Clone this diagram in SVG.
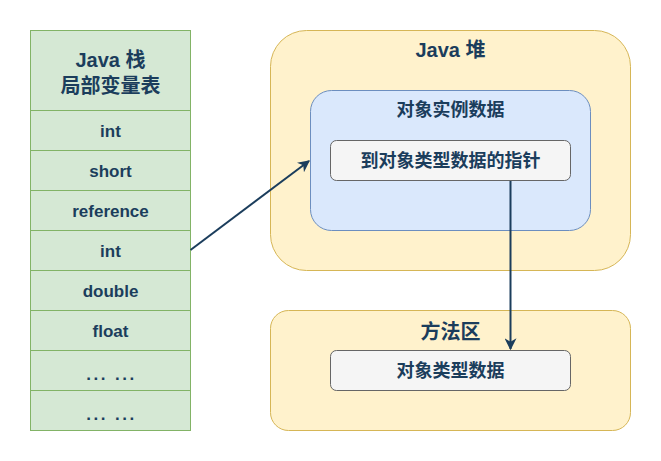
<svg xmlns="http://www.w3.org/2000/svg" width="661" height="461" viewBox="0 0 661 461">
<defs>
<style>
text{font-family:"Liberation Sans","Noto Sans CJK SC",sans-serif;font-weight:bold;fill:#1b3d5c;text-anchor:middle}
.cell{fill:#d5e8d4;stroke:#82b366;stroke-width:1}
.row{font-size:17px}
.dots{font-size:17px;letter-spacing:2.5px}
.title{font-size:20px}
.sub{font-size:18px}
.yellow{fill:#fff2cc;stroke:#d6b656;stroke-width:1}
.blue{fill:#dae8fc;stroke:#6c8ebf;stroke-width:1}
.grey{fill:#f5f5f5;stroke:#666666;stroke-width:1}
.edge{fill:none;stroke:#1b3d5c;stroke-width:2}
</style>
<marker id="arr" viewBox="0 0 10 10" refX="9" refY="5" markerWidth="6" markerHeight="6" orient="auto" markerUnits="strokeWidth">
<path d="M0,0 L10,5 L0,10 L3,5 Z" fill="#1b3d5c"/>
</marker>
</defs>
<g id="stack">
<rect class="cell" x="30.5" y="30.5" width="160" height="80"/>
<text class="title" x="110.5" y="67">Java 栈</text>
<text class="title" x="110.5" y="93">局部变量表</text>
<rect class="cell" x="30.5" y="110.5" width="160" height="40"/>
<text class="row" x="110.5" y="137">int</text>
<rect class="cell" x="30.5" y="150.5" width="160" height="40"/>
<text class="row" x="110.5" y="177">short</text>
<rect class="cell" x="30.5" y="190.5" width="160" height="40"/>
<text class="row" x="110.5" y="217">reference</text>
<rect class="cell" x="30.5" y="230.5" width="160" height="40"/>
<text class="row" x="110.5" y="257">int</text>
<rect class="cell" x="30.5" y="270.5" width="160" height="40"/>
<text class="row" x="110.5" y="297">double</text>
<rect class="cell" x="30.5" y="310.5" width="160" height="40"/>
<text class="row" x="110.5" y="337">float</text>
<rect class="cell" x="30.5" y="350.5" width="160" height="40"/>
<text class="dots" x="111.5" y="380">... ...</text>
<rect class="cell" x="30.5" y="390.5" width="160" height="40"/>
<text class="dots" x="111.5" y="420">... ...</text>
</g>
<g id="heap">
<rect class="yellow" x="270.5" y="30.5" width="360" height="240" rx="36" ry="36"/>
<text class="title" x="450.5" y="57">Java 堆</text>
</g>
<g id="instance">
<rect class="blue" x="310.5" y="90.5" width="280" height="140" rx="21" ry="21"/>
<text class="sub" x="450.5" y="116">对象实例数据</text>
</g>
<g id="pointer">
<rect class="grey" x="330.5" y="140.5" width="240" height="40" rx="6" ry="6"/>
<text class="sub" x="450.5" y="167">到对象类型数据的指针</text>
</g>
<g id="method">
<rect class="yellow" x="270.5" y="310.5" width="360" height="120" rx="18" ry="18"/>
<text class="title" x="450.5" y="339">方法区</text>
</g>
<g id="typedata">
<rect class="grey" x="330.5" y="350.5" width="240" height="40" rx="6" ry="6"/>
<text class="sub" x="450.5" y="377">对象类型数据</text>
</g>
<g id="connectors">
<path class="edge" d="M190.5,250 L309,161" marker-end="url(#arr)"/>
<path class="edge" d="M510.5,181 L510.5,349" marker-end="url(#arr)"/>
</g>
</svg>
